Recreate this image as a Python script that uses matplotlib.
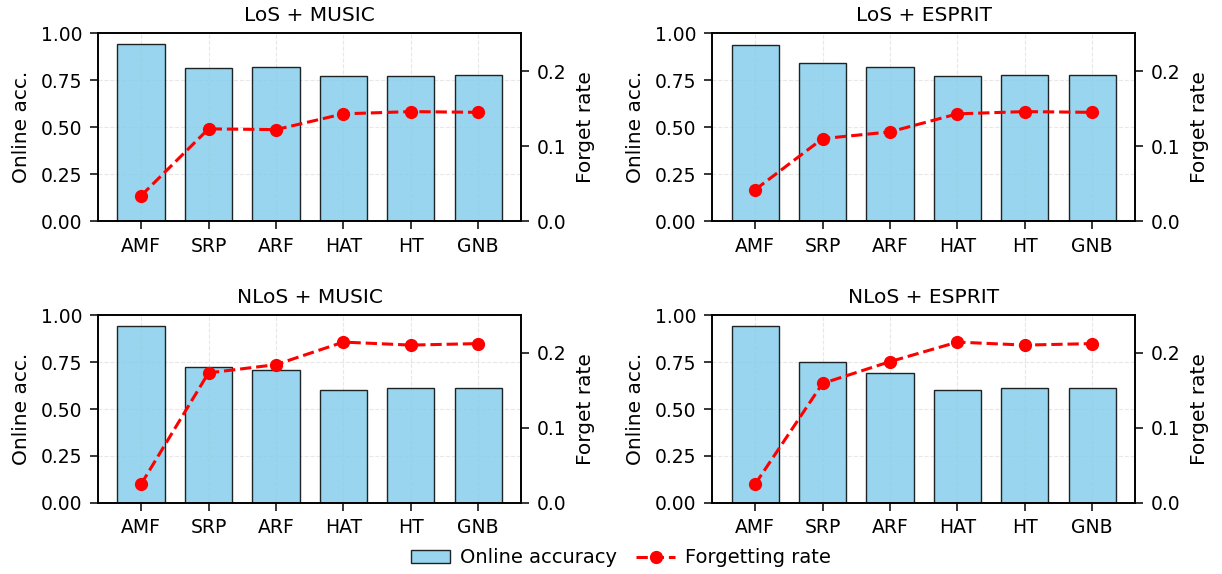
import numpy as np
import matplotlib
matplotlib.use("Agg")
import matplotlib.pyplot as plt

models = ["AMF", "SRP", "ARF", "HAT", "HT", "GNB"]
titles = ["LoS + MUSIC", "LoS + ESPRIT", "NLoS + MUSIC", "NLoS + ESPRIT"]

# Online accuracy per scenario
acc_los_music = [0.943, 0.815, 0.821, 0.775, 0.776, 0.777]
acc_los_esprit = [0.937, 0.842, 0.822, 0.776, 0.777, 0.777]
acc_nlos_music = [0.939, 0.725, 0.710, 0.602, 0.613, 0.611]
acc_nlos_esprit = [0.939, 0.751, 0.694, 0.602, 0.613, 0.611]

# Forgetting rate per scenario
fr_los_music = [0.034, 0.123, 0.122, 0.143, 0.146, 0.145]
fr_los_esprit = [0.042, 0.110, 0.119, 0.143, 0.146, 0.145]
fr_nlos_music = [0.025, 0.173, 0.184, 0.214, 0.210, 0.212]
fr_nlos_esprit = [0.025, 0.159, 0.188, 0.214, 0.210, 0.212]

acc_all = [acc_los_music, acc_los_esprit, acc_nlos_music, acc_nlos_esprit]
fr_all = [fr_los_music, fr_los_esprit, fr_nlos_music, fr_nlos_esprit]

plt.rcParams['font.size'] = 13.5
plt.rcParams['xtick.major.size'] = 5.5
plt.rcParams['ytick.major.size'] = 5.5
plt.rcParams['xtick.major.pad'] = 5.5
plt.rcParams['ytick.major.pad'] = 6
plt.rcParams['xtick.major.width'] = 1.1
plt.rcParams['ytick.major.width'] = 1.1

fig = plt.figure(figsize=(12.22, 5.74), dpi=100)
# axes boxes: left, bottom, width, height
boxes = [
    [0.0804, 0.6145, 0.3460, 0.3272],
    [0.5829, 0.6145, 0.3460, 0.3272],
    [0.0804, 0.1237, 0.3460, 0.3275],
    [0.5829, 0.1237, 0.3460, 0.3275],
]

x = np.arange(len(models))
for i in range(4):
    ax = fig.add_axes(boxes[i])
    bars = ax.bar(x, acc_all[i], width=0.7, color="skyblue", alpha=0.85,
                  edgecolor="black", linewidth=1, label="Online accuracy")
    ax.set_ylim(0, 1.0)
    ax.set_yticks([0, 0.25, 0.5, 0.75, 1.0])
    ax.set_xticks(x)
    ax.set_xticklabels(models)
    ax.set_ylabel("Online acc.", fontsize=14.5, labelpad=7)
    ax.set_title(titles[i], fontsize=14.5, pad=9)
    ax.grid(True, linestyle="--", alpha=0.3)
    ax.set_axisbelow(True)
    for s in ax.spines.values():
        s.set_linewidth(1.2)

    ax2 = ax.twinx()
    line, = ax2.plot(x, fr_all[i], "o--", color="red", linewidth=2.2,
                     markersize=8.5, label="Forgetting rate")
    ax2.set_ylim(0, 0.25)
    ax2.set_yticks([0.0, 0.1, 0.2])
    ax2.set_ylabel("Forget rate", fontsize=14.5, labelpad=7)
    for s in ax2.spines.values():
        s.set_linewidth(1.2)

fig.legend([bars, line], ["Online accuracy", "Forgetting rate"],
           loc="center", ncol=2, frameon=False, fontsize=14,
           handletextpad=0.5, columnspacing=1.0,
           bbox_to_anchor=(0.508, 0.028))

fig.savefig("out.png", dpi=100)
